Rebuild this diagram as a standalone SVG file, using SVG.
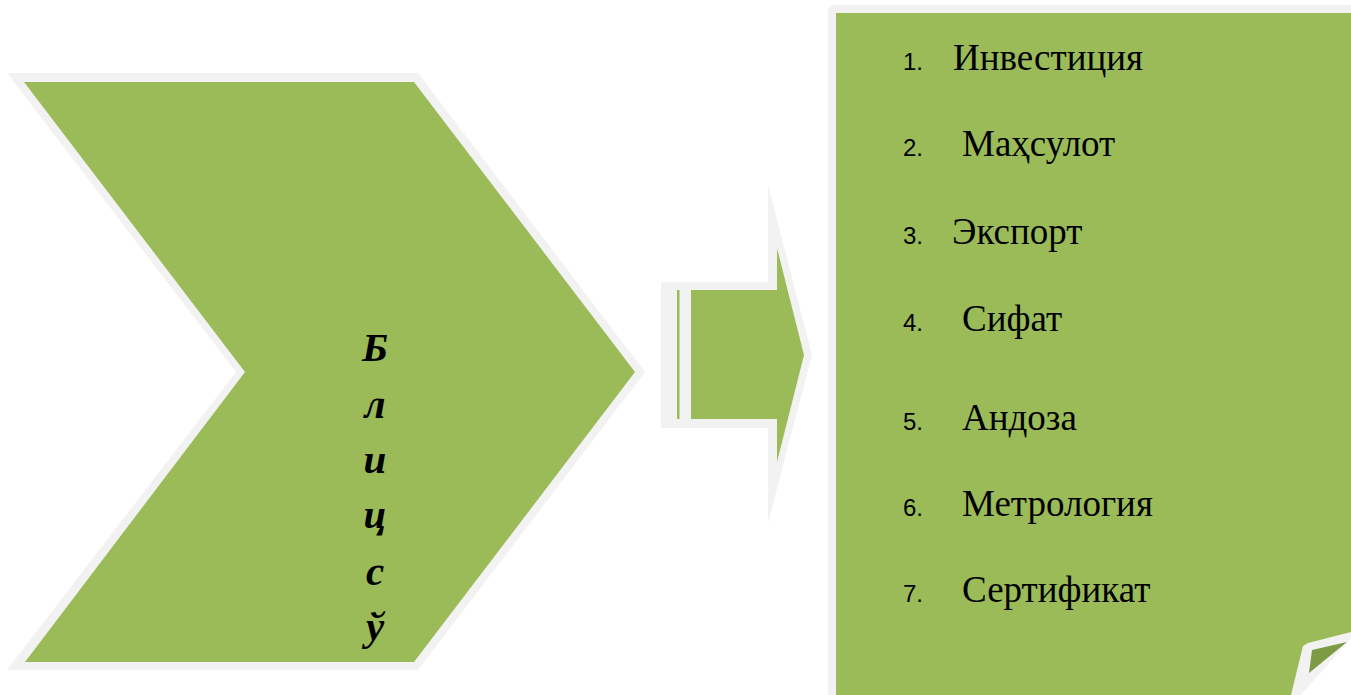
<svg xmlns="http://www.w3.org/2000/svg" width="1351" height="695" viewBox="0 0 1351 695">
<style>
.bd{fill:#f2f2f2}
.gr{fill:#9bbb59}
.num{font-family:"Liberation Sans",Arial,sans-serif;font-size:24px;fill:#000}
.lbl{font-family:"Liberation Serif","Times New Roman",serif;font-size:37px;fill:#000}
.v{font-family:"Liberation Serif","Times New Roman",serif;font-size:41px;font-weight:bold;font-style:italic;fill:#000;text-anchor:middle}
</style>
<rect width="1351" height="695" fill="#ffffff"/>
<g id="chevron">
<polygon class="bd" points="7,73 418,73 645,372 418,670 7,670 236,372"/>
<polygon class="gr" points="24,82 414,82 635,372 414,662 25,662 245,372"/>
<text class="v" x="375" y="361">Б</text>
<text class="v" x="375" y="418">л</text>
<text class="v" x="375" y="473">и</text>
<text class="v" x="375" y="528">ц</text>
<text class="v" x="375" y="585">с</text>
<text class="v" x="375" y="640">ў</text>
</g>
<g id="connectors">
<g id="arrow">
<polygon class="bd" points="661,282 768,282 768,185 812,355 768,523 768,428 661,428"/>
<rect class="gr" x="677" y="290" width="2.5" height="129"/>
<polygon class="gr" points="691,290 777,290 777,248 804,355 777,462 777,419 691,419"/>
</g>
</g>
<g id="list">
<rect class="bd" x="828" y="5" width="540" height="720" rx="6"/>
<rect class="gr" x="836" y="13" width="520" height="700"/>
<polygon class="bd" points="1291,695 1303,646 1308,643 1351,632 1351,695"/>
<polygon fill="#7d9a45" points="1312,650 1347,642 1309,673"/>
<polygon fill="#ffffff" points="1301,695 1351,638 1351,695"/>
<text class="num" x="903" y="70">1.</text><text class="lbl" x="953" y="70">Инвестиция</text>
<text class="num" x="903" y="156">2.</text><text class="lbl" x="962" y="156">Маҳсулот</text>
<text class="num" x="903" y="244">3.</text><text class="lbl" x="952" y="244">Экспорт</text>
<text class="num" x="903" y="331">4.</text><text class="lbl" x="962" y="331">Сифат</text>
<text class="num" x="903" y="430">5.</text><text class="lbl" x="962" y="430">Андоза</text>
<text class="num" x="903" y="516">6.</text><text class="lbl" x="962" y="516">Метрология</text>
<text class="num" x="903" y="602">7.</text><text class="lbl" x="962" y="602">Сертификат</text>
</g>
</svg>
